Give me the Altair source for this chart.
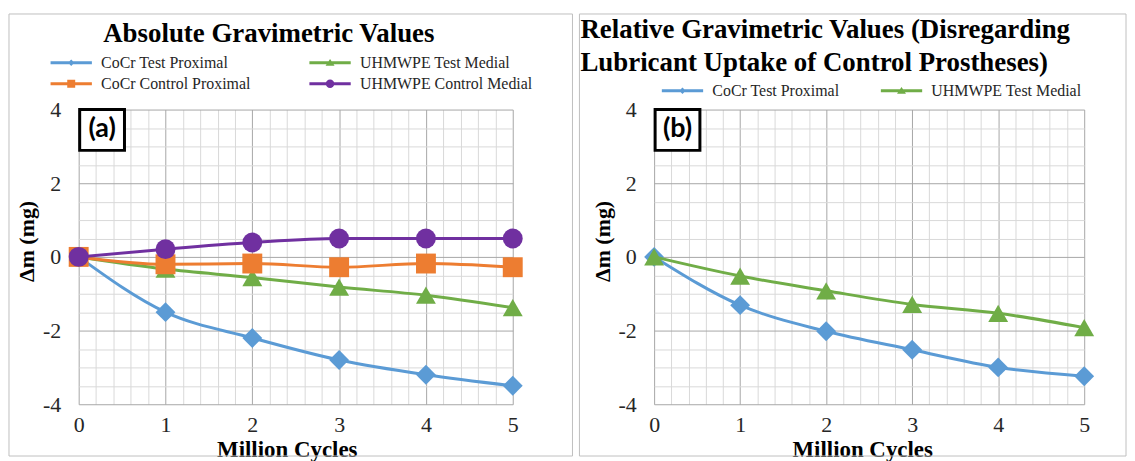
import altair as alt
import pandas as pd

# ---------------- data ----------------
cycles = [0, 1, 2, 3, 4, 5]

abs_cocr_test_prox = [0, -1.5, -2.2, -2.8, -3.2, -3.5]
abs_uhmwpe_test_med = [0, -0.33, -0.56, -0.82, -1.04, -1.38]
abs_cocr_ctrl_prox = [0, -0.2, -0.18, -0.28, -0.18, -0.28]
abs_uhmwpe_ctrl_med = [0, 0.21, 0.39, 0.5, 0.5, 0.5]

rel_cocr_test_prox = [0, -1.31, -2.02, -2.52, -3.0, -3.24]
rel_uhmwpe_test_med = [0, -0.52, -0.92, -1.29, -1.53, -1.92]

series_abs = ["CoCr Test Proximal", "UHMWPE Test Medial",
              "CoCr Control Proximal", "UHMWPE Control Medial"]
series_rel = ["CoCr Test Proximal", "UHMWPE Test Medial"]

colors = {
    "CoCr Test Proximal": "#5B9BD5",
    "UHMWPE Test Medial": "#70AD47",
    "CoCr Control Proximal": "#ED7D31",
    "UHMWPE Control Medial": "#7030A0",
}
marker_shapes = {
    "CoCr Test Proximal": "diamond",
    "UHMWPE Test Medial": "triangle-up",
    "CoCr Control Proximal": "square",
    "UHMWPE Control Medial": "circle",
}
LINE = "M-4.15,-0.3L4.15,-0.3L4.15,0.3L-4.15,0.3Z"
legend_paths = {
    "CoCr Test Proximal": LINE + "M0,-0.65L0.65,0L0,0.65L-0.65,0Z",
    "UHMWPE Test Medial": LINE + "M0,-0.75L0.9,0.62L-0.9,0.62Z",
    "CoCr Control Proximal": LINE + "M-0.8,-0.8L0.8,-0.8L0.8,0.8L-0.8,0.8Z",
    "UHMWPE Control Medial": LINE + "M-0.85,0A0.85,0.85 0 1,1 0.85,0A0.85,0.85 0 1,1 -0.85,0Z",
}

df_abs = pd.concat([
    pd.DataFrame({"cycle": cycles, "dm": abs_cocr_test_prox, "series": "CoCr Test Proximal"}),
    pd.DataFrame({"cycle": cycles, "dm": abs_uhmwpe_test_med, "series": "UHMWPE Test Medial"}),
    pd.DataFrame({"cycle": cycles, "dm": abs_cocr_ctrl_prox, "series": "CoCr Control Proximal"}),
    pd.DataFrame({"cycle": cycles, "dm": abs_uhmwpe_ctrl_med, "series": "UHMWPE Control Medial"}),
])
df_rel = pd.concat([
    pd.DataFrame({"cycle": cycles, "dm": rel_cocr_test_prox, "series": "CoCr Test Proximal"}),
    pd.DataFrame({"cycle": cycles, "dm": rel_uhmwpe_test_med, "series": "UHMWPE Test Medial"}),
])

x_ticks = [i / 5 for i in range(26)]
y_ticks = [-4 + i * 0.5 for i in range(17)]

SERIF = "Liberation Serif"
MAJOR = "#a6a6a6"
MINOR = "#d9d9d9"

PLOT_H = 296


def make_x_axis():
    return alt.Axis(
        values=x_ticks, ticks=False, domain=False, grid=True, gridWidth=1,
        gridColor={"condition": {"test": "abs(datum.value - round(datum.value)) < 0.001", "value": MAJOR},
                   "value": MINOR},
        labelExpr="abs(datum.value - round(datum.value)) < 0.001 ? '' + round(datum.value) : ''",
        labelOverlap=False, labelFlush=False, labelFont=SERIF, labelFontSize=22,
        labelColor="#262626", labelPadding=10,
        title="Million Cycles", titleFont=SERIF, titleFontSize=23, titleFontWeight="bold",
        titleColor="#000000", titleX=209, titleY=52, titleBaseline="alphabetic",
    )


def make_y_axis():
    return alt.Axis(
        values=y_ticks, ticks=False, domain=False, grid=True, gridWidth=1,
        gridColor={"condition": {"test": "abs(datum.value % 2) < 0.001", "value": MAJOR},
                   "value": MINOR},
        labelExpr="abs(datum.value % 2) < 0.001 ? '' + round(datum.value) : ''",
        labelOverlap=False, labelFlush=False, labelFont=SERIF, labelFontSize=22,
        labelColor="#262626", labelPadding=18,
        title="Δm (mg)", titleFont=SERIF, titleFontSize=22, titleFontWeight="bold",
        titleColor="#000000", titleX=-52, titleY=132, titleBaseline="middle",
        titleAngle=270,
    )


def panel(df, series, width, title_lines, title_x, title_y, title_align,
          tag, legend_x, legend_y, col_pad, border_left, border_right):
    xenc = alt.X("cycle:Q", scale=alt.Scale(domain=[0, 5], nice=False, zero=False), axis=make_x_axis())
    yenc = alt.Y("dm:Q", scale=alt.Scale(domain=[-4, 4], nice=False, zero=False), axis=make_y_axis())
    cscale = alt.Scale(domain=series, range=[colors[s] for s in series])
    one = alt.Data(values=[{"k": 1}])
    base = alt.Chart(df)

    layers = []
    # legend carrier layer (first, so its explicit legend settings win the merge);
    # its own points are clipped away, only the legend is kept
    leg = alt.Legend(orient="none", legendX=legend_x, legendY=legend_y, columns=2,
                     direction="horizontal", title=None,
                     labelFont=SERIF, labelFontSize=16, labelColor="#262626",
                     symbolOffset=16.5, labelOffset=22, columnPadding=col_pad, rowPadding=5,
                     symbolStrokeWidth=0, labelLimit=400)
    layers.append(base.mark_point(filled=True, opacity=1, size=256, strokeWidth=0, clip=True).encode(
        x=alt.value(-300), y=alt.value(-300),
        color=alt.Color("series:N", scale=cscale, legend=leg),
        shape=alt.Shape("series:N", scale=alt.Scale(domain=series, range=[legend_paths[s] for s in series]),
                        legend=leg),
    ))
    # panel border
    layers.append(
        alt.Chart(one).mark_rect(fill="transparent", stroke="#bfbfbf", strokeWidth=1).encode(
            x=alt.value(border_left), x2=alt.value(border_right),
            y=alt.value(-96), y2=alt.value(PLOT_H + 52))
    )
    for s in series:
        sub = base.transform_filter(alt.datum.series == s)
        layers.append(sub.mark_line(strokeWidth=3, interpolate="monotone").encode(
            x=xenc, y=yenc, color=alt.Color("series:N", scale=cscale, legend=None)))
        layers.append(sub.mark_point(filled=True, shape=marker_shapes[s], size=400, opacity=1,
                                     strokeWidth=0).encode(
            x=xenc, y=yenc, color=alt.Color("series:N", scale=cscale, legend=None)))

    # tag box "(a)" / "(b)"
    layers.append(alt.Chart(one).mark_rect(fill="white", stroke="black", strokeWidth=3).encode(
        x=alt.value(1), x2=alt.value(46), y=alt.value(0), y2=alt.value(41)))
    layers.append(alt.Chart(one).mark_text(font="Lato", fontSize=27, fontWeight="bold", color="black",
                                           align="center", baseline="middle").encode(
        x=alt.value(23.5), y=alt.value(20), text=alt.value(tag)))

    # title
    layers.append(alt.Chart(one).mark_text(font=SERIF, fontSize=27, fontWeight="bold", color="black",
                                           align=title_align, baseline="alphabetic", lineHeight=33).encode(
        x=alt.value(title_x), y=alt.value(title_y), text=alt.value(title_lines)))

    return alt.layer(*layers).properties(width=width, height=PLOT_H)


left = panel(df_abs, series_abs, 436, "Absolute Gravimetric Values", 191, -68, "center",
             "(a)", -32, -55, 55, -70, 496)
right = panel(df_rel, series_rel, 432,
              ["Relative Gravimetric Values (Disregarding", " Lubricant Uptake of Control Prostheses)"],
              -74, -72, "left", "(b)", 4, -27, 37, -75, 474)

chart = alt.hconcat(left, right, spacing=5).resolve_scale(color="independent", shape="independent") \
    .resolve_legend(color="independent", shape="independent") \
    .properties(padding={"left": 0, "top": 4, "right": 0, "bottom": 0}, background="white") \
    .configure_view(stroke=None)

chart.save("out.html", embed_options={"renderer": "svg", "actions": False})
